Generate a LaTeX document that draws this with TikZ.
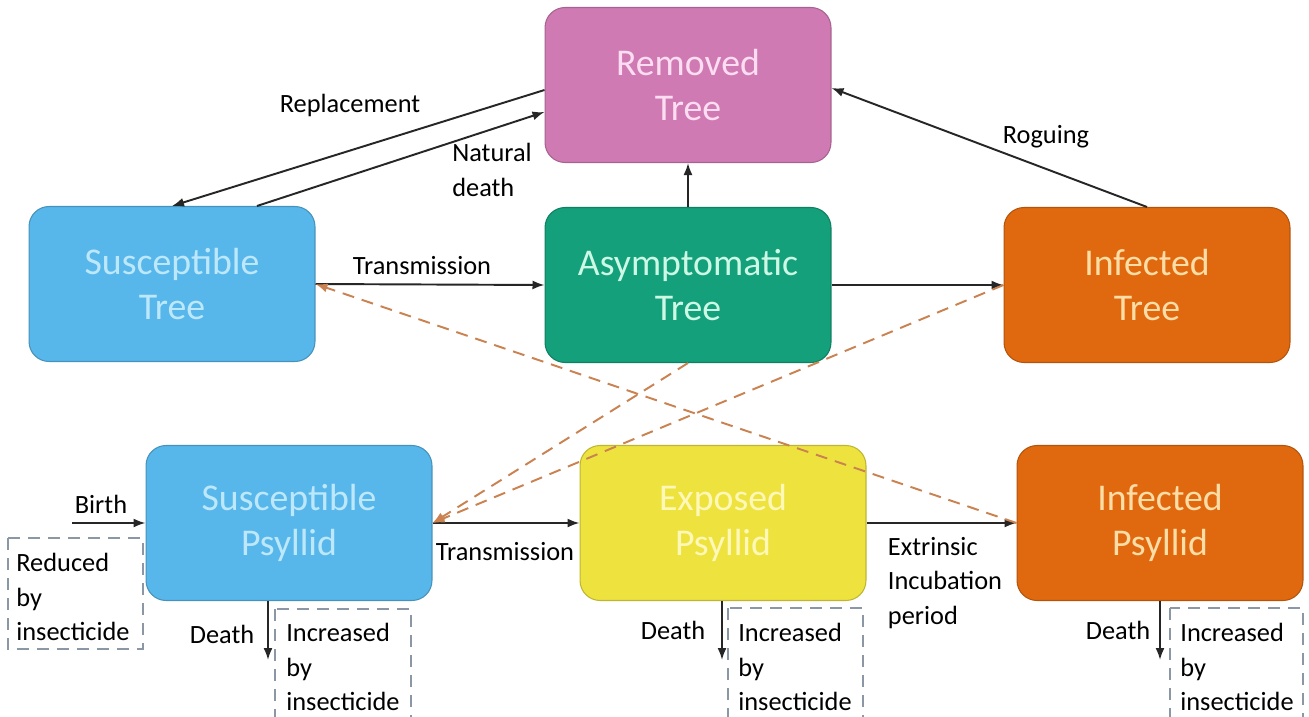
\documentclass[tikz,border=0pt]{standalone}
\usepackage{fontspec}
\setmainfont{Carlito}
\usetikzlibrary{positioning,arrows.meta}

\definecolor{remfill}{HTML}{D07AB4}
\definecolor{remtext}{HTML}{FCDDF2}
\definecolor{susfill}{HTML}{58B7EA}
\definecolor{sustext}{HTML}{BDE8FB}
\definecolor{asyfill}{HTML}{13A07A}
\definecolor{asytext}{HTML}{CDF8E6}
\definecolor{inffill}{HTML}{E0690F}
\definecolor{inftext}{HTML}{FFDDA6}
\definecolor{expfill}{HTML}{EEE33E}
\definecolor{exptext}{HTML}{FFF8B8}
\definecolor{dashorange}{HTML}{C98250}
\definecolor{boxgrey}{HTML}{8C97A6}

\begin{document}
\begin{tikzpicture}[
  x=0.02cm, y=-0.02cm,
  >={Latex[length=0.24cm,width=0.18cm]},
  comp/.style={rectangle, rounded corners=0.4cm, minimum width=5.72cm, minimum height=3.1cm,
    align=center, font=\fontsize{21.5}{25.6}\selectfont, line width=0.6pt},
  lbl/.style={font=\fontsize{15}{19.5}\selectfont, align=left, inner sep=0pt},
  arr/.style={->, line width=1.1pt, black!85},
  dasharr/.style={->, line width=1.1pt, dashorange, dash pattern=on 0.24cm off 0.16cm},
  ctrl/.style={draw=boxgrey, line width=1.1pt, dash pattern=on 0.24cm off 0.16cm}
]
  \clip (0,0) rectangle (1309,717);
  \fill[white] (0,0) rectangle (1309,717);

  % trees
  \node[comp, fill=remfill, draw=remfill!80!black, text=remtext] (RT) at (688,85)  {Removed\\Tree};
  \node[comp, fill=susfill, draw=susfill!80!black, text=sustext] (ST) at (172,284) {Susceptible\\Tree};
  \node[comp, fill=asyfill, draw=asyfill!80!black, text=asytext] (AT) at (688,285) {Asymptomatic\\Tree};
  \node[comp, fill=inffill, draw=inffill!80!black, text=inftext] (IT) at (1147,285) {Infected\\Tree};

  % psyllids
  \node[comp, fill=susfill, draw=susfill!80!black, text=sustext] (SP) at (289,523)  {Susceptible\\Psyllid};
  \node[comp, fill=expfill, draw=expfill!80!black, text=exptext] (EP) at (723,523)  {Exposed\\Psyllid};
  \node[comp, fill=inffill, draw=inffill!80!black, text=inftext] (IP) at (1160,523) {Infected\\Psyllid};

  \coordinate (birth) at (72,523);
  \coordinate (dSP) at (268,660);
  \coordinate (dEP) at (722,660);
  \coordinate (dIP) at (1160,660);

  % tree flows
  \draw[arr] ([yshift=-0.1cm]RT.west) -- (ST.north);
  \draw[arr] ([xshift=1.7cm]ST.north) -- ([yshift=-0.54cm]RT.west);
  \draw[arr] (AT.north) -- (RT.south);
  \draw[arr] (IT.north) -- ([yshift=-0.06cm]RT.east);
  \draw[arr] (ST.east) -- (AT.west);
  \draw[arr] (AT.east) -- (IT.west);

  % psyllid flows
  \draw[arr] (birth) -- (SP.west);
  \draw[arr] (SP.east) -- (EP.west);
  \draw[arr] (EP.east) -- (IP.west);
  \draw[arr] (SP.south -| dSP) -- (dSP);
  \draw[arr] (EP.south -| dEP) -- (dEP);
  \draw[arr] (IP.south -| dIP) -- (dIP);

  % cross infection
  \draw[dasharr] (AT.south) -- (SP.east);
  \draw[dasharr] (IT.west) -- (SP.east);
  \draw[dasharr] (IP.west) -- (ST.east);

  % insecticide boxes
  \draw[ctrl] (8,538) rectangle (143,649);
  \draw[ctrl] (275,609) rectangle (411,740);
  \draw[ctrl] (728,608) rectangle (863,740);
  \draw[ctrl] (1170,608) rectangle (1303,740);

  % labels
  \node[lbl] (lrep) at (350,105) {Replacement};
  \node[lbl] (lnat) at (492,170) {Natural\\death};
  \node[lbl] (lrog) at (1046,137) {Roguing};
  \node[lbl] (ltt) at (422,266) {Transmission};
  \node[lbl] (lbirth) at (101,504) {Birth};
  \node[lbl] (ltp) at (505,552) {Transmission};
  \node[lbl] (lext) at (945,583) {Extrinsic\\Incubation\\period};
  \node[lbl] (ld1) at (222,634) {Death};
  \node[lbl] (ld2) at (673,630) {Death};
  \node[lbl] (ld3) at (1118,630) {Death};
  \node[lbl, anchor=west] (lred) at (16,597) {Reduced\\by\\insecticide};
  \node[lbl, anchor=west] (linc1) at (286,667) {Increased\\by\\insecticide};
  \node[lbl, anchor=west] (linc2) at (738,667) {Increased\\by\\insecticide};
  \node[lbl, anchor=west] (linc3) at (1180,667) {Increased\\by\\insecticide};
\end{tikzpicture}
\end{document}
